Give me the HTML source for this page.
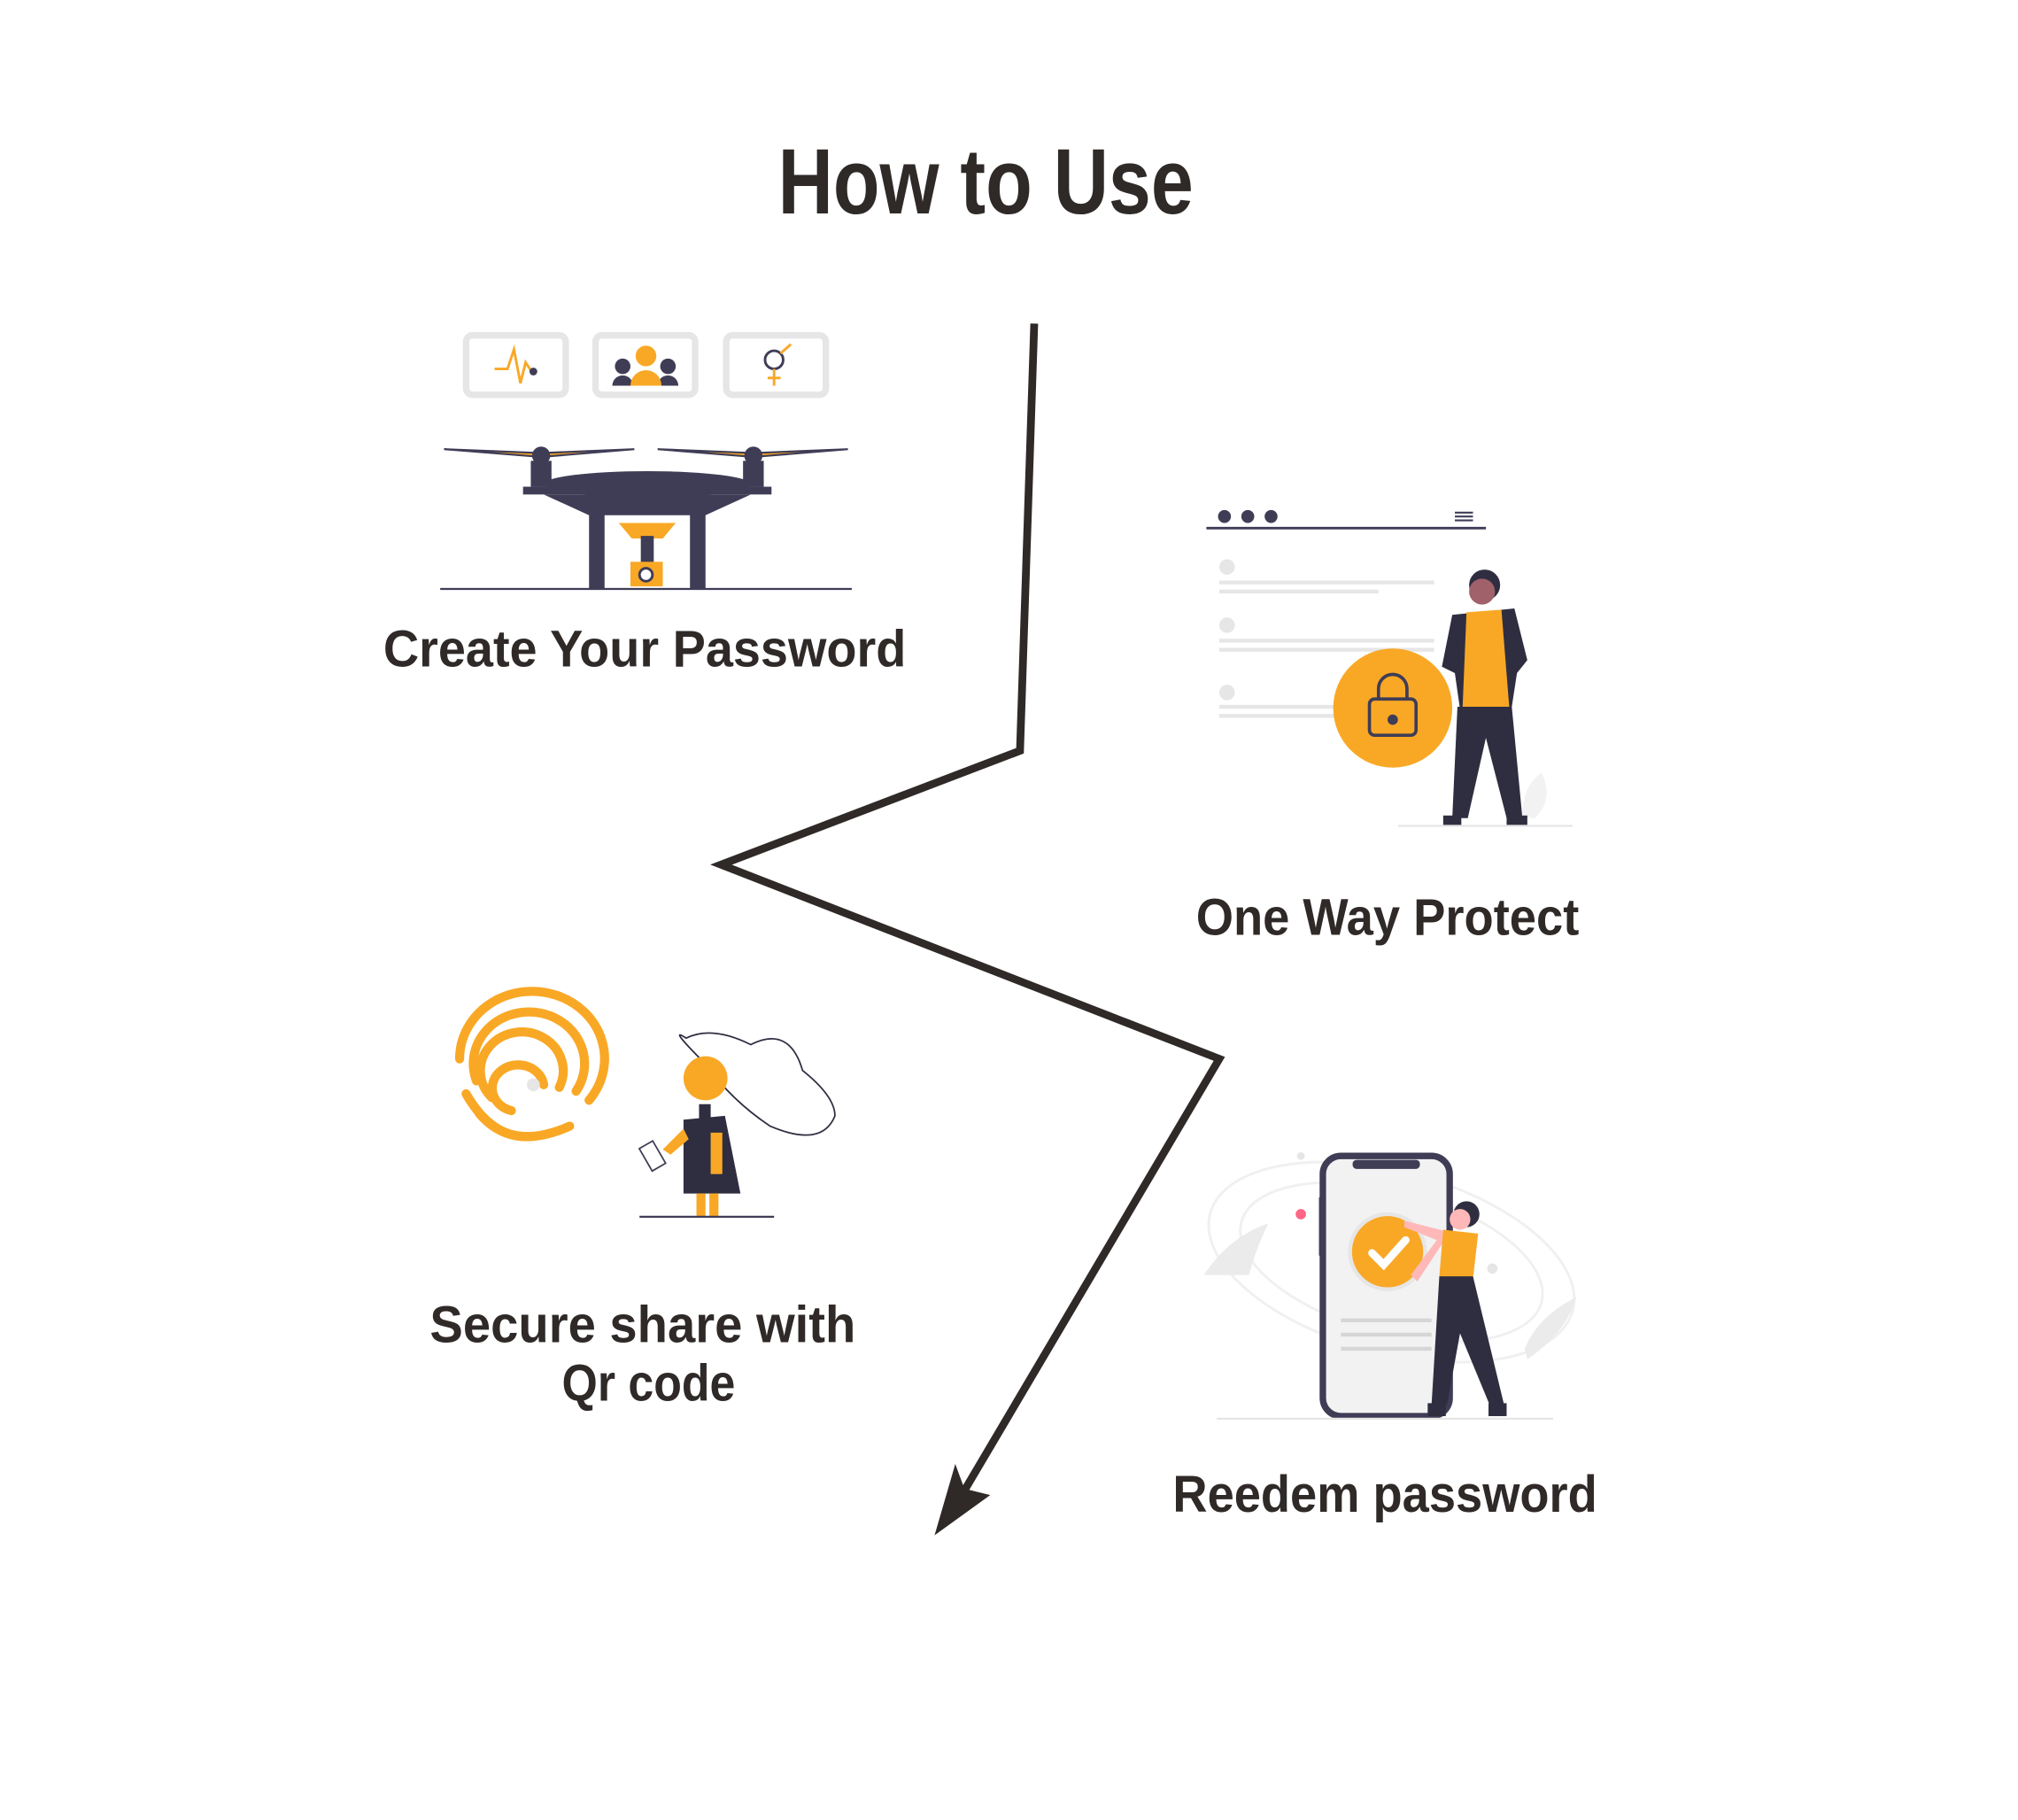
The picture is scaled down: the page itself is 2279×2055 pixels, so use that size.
<!DOCTYPE html>
<html><head><meta charset="utf-8"><style>
html,body{margin:0;padding:0;background:#fff;}
svg{display:block;}
text{font-family:"Liberation Sans","DejaVu Sans",sans-serif;font-weight:bold;fill:#2f2a28;}
</style></head><body>
<svg width="2279" height="2055" viewBox="0 0 1559 1406" xmlns="http://www.w3.org/2000/svg">
<rect width="1559" height="1406" fill="#fff"/>
<text x="601" y="165" font-size="72" textLength="321" lengthAdjust="spacingAndGlyphs">How to Use</text>

<!-- drone illustration -->
<g fill="none" stroke="#e6e6e6" stroke-width="5">
<rect x="360" y="259" width="77" height="46" rx="5"/>
<rect x="460" y="259" width="77" height="46" rx="5"/>
<rect x="561" y="259" width="77" height="46" rx="5"/>
</g>
<polyline points="382,285 392,285 397,270 402,296 406,280 410,286" fill="none" stroke="#f9a826" stroke-width="2"/>
<circle cx="412" cy="287" r="3" fill="#3f3d56"/>
<circle cx="481" cy="283" r="6" fill="#3f3d56"/><circle cx="516" cy="283" r="6" fill="#3f3d56"/>
<path d="M473,298 a8,8 0 0 1 16,0z M508,298 a8,8 0 0 1 16,0z" fill="#3f3d56"/>
<circle cx="499" cy="275" r="8" fill="#f9a826"/><path d="M487,298 a12,12 0 0 1 24,0z" fill="#f9a826"/>
<circle cx="598" cy="278" r="7" fill="none" stroke="#3f3d56" stroke-width="2"/>
<line x1="603" y1="273" x2="611" y2="266" stroke="#f9a826" stroke-width="2"/>
<line x1="598" y1="285" x2="598" y2="298" stroke="#f9a826" stroke-width="2"/><line x1="593" y1="292" x2="603" y2="292" stroke="#f9a826" stroke-width="2"/>
<path d="M343,347 L418,353 L490,347 L418,350Z M508,347 L582,353 L655,347 L582,350Z" fill="#f9a826" stroke="#3f3d56" stroke-width="1.5"/>
<circle cx="418" cy="352" r="7" fill="#3f3d56"/><circle cx="582" cy="352" r="7" fill="#3f3d56"/>
<rect x="410" y="356" width="16" height="20" fill="#3f3d56"/><rect x="574" y="356" width="16" height="20" fill="#3f3d56"/>
<ellipse cx="500" cy="374" rx="80" ry="10" fill="#3f3d56"/>
<rect x="404" y="376" width="192" height="6" fill="#3f3d56"/>
<path d="M420,382 L580,382 L545,398 L455,398Z" fill="#3f3d56"/>
<rect x="455" y="396" width="12" height="59" fill="#3f3d56"/><rect x="533" y="396" width="12" height="59" fill="#3f3d56"/>
<path d="M478,404 L522,404 L512,416 L488,416Z" fill="#f9a826"/>
<rect x="495" y="414" width="10" height="22" fill="#3f3d56"/>
<rect x="487" y="434" width="25" height="19" fill="#f9a826"/><circle cx="499" cy="444" r="5" fill="#fff" stroke="#3f3d56" stroke-width="2"/>
<line x1="340" y1="455" x2="658" y2="455" stroke="#3f3d56" stroke-width="1.5"/>
<text x="296" y="515" font-size="40" textLength="404" lengthAdjust="spacingAndGlyphs">Create Your Password</text>

<!-- lightning arrow -->
<polyline points="799,250 788,580 557,668 942,818 740,1160" fill="none" stroke="#2f2a28" stroke-width="6" stroke-linejoin="miter"/>
<polygon points="722,1186 765,1155 745,1150 738,1131" fill="#2f2a28"/>

<!-- one way protect -->
<circle cx="946" cy="399" r="5" fill="#3f3d56"/><circle cx="964" cy="399" r="5" fill="#3f3d56"/><circle cx="982" cy="399" r="5" fill="#3f3d56"/>
<line x1="1124" y1="396" x2="1138" y2="396" stroke="#3f3d56" stroke-width="1.5"/><line x1="1124" y1="399" x2="1138" y2="399" stroke="#3f3d56" stroke-width="1.5"/><line x1="1124" y1="402" x2="1138" y2="402" stroke="#3f3d56" stroke-width="1.5"/>
<line x1="932" y1="408" x2="1148" y2="408" stroke="#3f3d56" stroke-width="2"/>
<g fill="#e6e6e6"><circle cx="948" cy="438" r="6"/><circle cx="948" cy="483" r="6"/><circle cx="948" cy="535" r="6"/></g>
<g stroke="#e6e6e6" stroke-width="3"><line x1="942" y1="450" x2="1108" y2="450"/><line x1="942" y1="457" x2="1065" y2="457"/><line x1="942" y1="495" x2="1108" y2="495"/><line x1="942" y1="502" x2="1108" y2="502"/><line x1="942" y1="546" x2="1040" y2="546"/><line x1="942" y1="553" x2="1040" y2="553"/></g>
<circle cx="1076" cy="547" r="46" fill="#f9a826"/>
<rect x="1058" y="540" width="36" height="28" rx="4" fill="#f9a826" stroke="#3f3d56" stroke-width="2.5"/>
<path d="M1065,540 v-8 a11,11 0 0 1 22,0 v8" fill="none" stroke="#3f3d56" stroke-width="2.5"/>
<circle cx="1076" cy="556" r="4" fill="#3f3d56"/>
<path d="M1176,632 q0,-25 15,-35 q10,20 -5,35z" fill="#f2f2f2"/>
<circle cx="1147" cy="452" r="12" fill="#2f2e41"/><circle cx="1145" cy="457" r="10" fill="#a0616a"/>
<path d="M1122,475 L1170,470 L1180,510 L1172,520 L1168,546 L1128,548 L1124,520 L1114,515Z" fill="#2f2e41"/>
<path d="M1133,473 L1160,471 L1166,546 L1130,546Z" fill="#f9a826"/>
<path d="M1126,546 L1168,546 L1176,630 L1164,632 L1148,570 L1134,632 L1122,632Z" fill="#2f2e41"/>
<rect x="1115" y="630" width="14" height="8" fill="#2f2e41"/><rect x="1164" y="630" width="16" height="8" fill="#2f2e41"/>
<line x1="1080" y1="638" x2="1215" y2="638" stroke="#e6e6e6" stroke-width="1.5"/>
<text x="924" y="722" font-size="40" textLength="296" lengthAdjust="spacingAndGlyphs">One Way Protect</text>

<!-- fingerprint -->
<g fill="none" stroke="#f9a826" stroke-width="7" stroke-linecap="round">
<path d="M355,818 A56,52 0 1 1 455,850"/>
<path d="M368,835 A43,40 0 1 1 445,843"/>
<path d="M380,848 A32,30 0 1 1 432,840"/>
<path d="M395,858 A20,18 0 1 1 420,838"/>
<path d="M370,860 Q395,890 440,870"/>
<path d="M360,845 Q380,880 410,878"/>
</g>
<circle cx="412" cy="838" r="5" fill="#e6e6e6"/>
<path d="M545,822 q-30,-30 -15,-20 q20,-10 50,5 q30,-15 40,20 q25,20 25,35 q-10,25 -50,8 q-30,-20 -50,-48" fill="none" stroke="#2f2e41" stroke-width="1.2"/>
<circle cx="545" cy="833" r="17" fill="#f9a826"/>
<rect x="540" y="853" width="9" height="12" fill="#2f2e41"/>
<path d="M528,865 L560,862 L572,922 L528,922Z" fill="#2f2e41"/>
<rect x="549" y="875" width="9" height="32" fill="#f9a826"/>
<path d="M528,872 L512,888 L518,892 L532,880Z" fill="#f9a826"/>
<rect x="498" y="883" width="12" height="20" fill="#fff" stroke="#3f3d56" stroke-width="1.2" transform="rotate(-30 504 893)"/>
<rect x="538" y="922" width="7" height="18" fill="#f9a826"/><rect x="548" y="922" width="7" height="18" fill="#f9a826"/>
<line x1="494" y1="940" x2="598" y2="940" stroke="#3f3d56" stroke-width="1.5"/>
<text x="332" y="1037" font-size="40" textLength="329" lengthAdjust="spacingAndGlyphs">Secure share with</text>
<text x="434" y="1082" font-size="40" textLength="134" lengthAdjust="spacingAndGlyphs">Qr code</text>

<!-- phone -->
<g fill="none" stroke="#f0f0f0" stroke-width="2">
<ellipse cx="1075" cy="975" rx="145" ry="70" transform="rotate(15 1075 975)"/>
<ellipse cx="1075" cy="975" rx="120" ry="55" transform="rotate(15 1075 975)"/>
</g>
<path d="M930,985 q20,-30 50,-40 q-10,20 -15,40z" fill="#ebebeb"/>
<path d="M1180,1050 q30,-20 38,-48 q-30,15 -40,40z" fill="#ebebeb"/>
<circle cx="1005" cy="938" r="4" fill="#ff6584"/><circle cx="1005" cy="893" r="3" fill="#e6e6e6"/><circle cx="1153" cy="980" r="4" fill="#e6e6e6"/>
<rect x="1022" y="893" width="98" height="201" rx="14" fill="#f2f2f2" stroke="#3f3d56" stroke-width="5"/>
<rect x="1045" y="896" width="52" height="7" rx="3" fill="#3f3d56"/>
<rect x="1019" y="925" width="4" height="45" fill="#3f3d56"/>
<g stroke="#d6d6d6" stroke-width="3"><line x1="1036" y1="1020" x2="1106" y2="1020"/><line x1="1036" y1="1031" x2="1106" y2="1031"/><line x1="1036" y1="1042" x2="1106" y2="1042"/></g>
<circle cx="1072" cy="967" r="29" fill="#f9a826" stroke="#e6e6e6" stroke-width="3"/>
<polyline points="1060,968 1069,977 1086,958" fill="none" stroke="#fff" stroke-width="6" stroke-linecap="round"/>
<circle cx="1133" cy="938" r="10" fill="#2f2e41"/><circle cx="1128" cy="942" r="8" fill="#ffb8b8"/>
<path d="M1085,943 L1120,952 L1095,990 L1090,985 L1110,958 L1085,948Z" fill="#ffb8b8"/>
<path d="M1115,950 L1142,953 L1138,988 L1112,986Z" fill="#f9a826"/>
<path d="M1112,986 L1138,986 L1162,1085 L1152,1088 L1128,1030 L1118,1085 L1106,1085Z" fill="#2f2e41"/>
<rect x="1103" y="1084" width="14" height="10" fill="#2f2e41"/><rect x="1150" y="1084" width="14" height="10" fill="#2f2e41"/>
<line x1="940" y1="1096" x2="1200" y2="1096" stroke="#e6e6e6" stroke-width="1.5"/>
<text x="906" y="1168" font-size="40" textLength="328" lengthAdjust="spacingAndGlyphs">Reedem password</text>
</svg>
</body></html>
